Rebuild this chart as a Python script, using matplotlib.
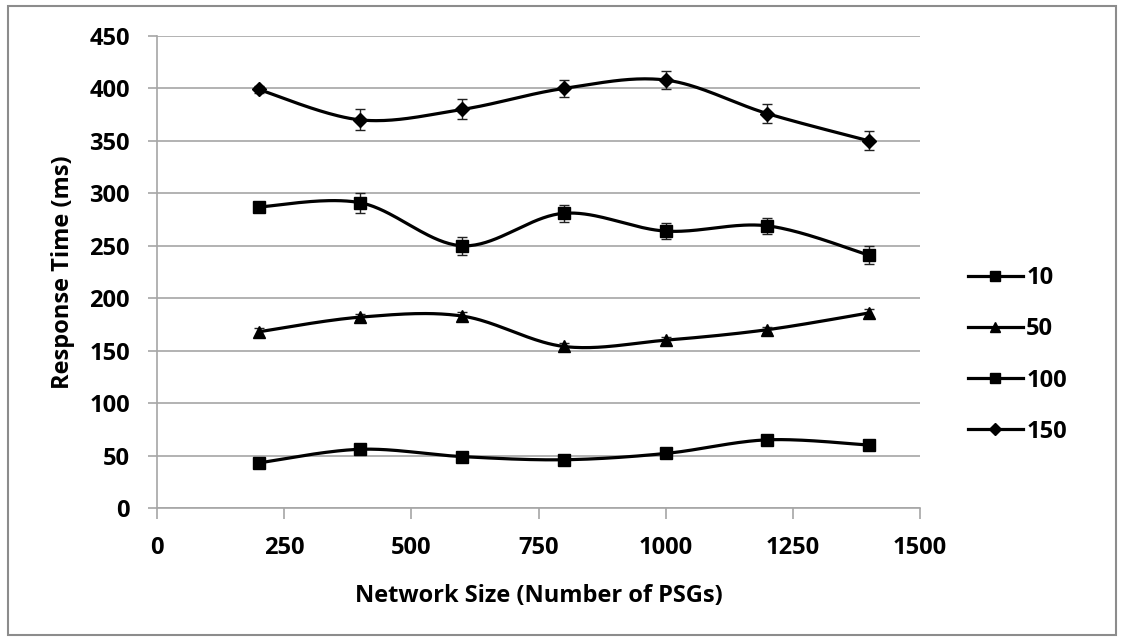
import numpy as np
import matplotlib
matplotlib.use("Agg")
import matplotlib.pyplot as plt
from matplotlib.patches import Rectangle
from matplotlib.lines import Line2D

# Network size (number of PSGs)
network_size = [200, 400, 600, 800, 1000, 1200, 1400]

# Mean response time (ms) per load level, with error-bar half widths
labels = ["10", "50", "100", "150"]
rt_10 = [43, 56, 49, 46, 52, 65, 60]
err_10 = [2, 2, 2, 2, 2, 2, 2]
rt_50 = [168, 182, 183, 154, 160, 170, 186]
err_50 = [4, 3, 4, 3, 3, 3, 4]
rt_100 = [287, 291, 250, 281, 264, 269, 241]
err_100 = [2, 9.5, 8.5, 8, 8, 7.8, 8.7]
rt_150 = [399, 370, 380, 400, 408, 376, 350]
err_150 = [3, 10, 9.5, 8.5, 9, 9, 9]

markers = ["s", "^", "s", "D"]
msizes = [8, 8, 8, 7]

y_ticks = [0, 50, 100, 150, 200, 250, 300, 350, 400, 450]
x_ticks = [0, 250, 500, 750, 1000, 1250, 1500]

FONT = "Open Sans"
FSIZE = 17
GRID = "#a6a6a6"


def smooth(x, y, n=40):
    """Bezier smoothing through the points (Catmull-Rom style control points)."""
    x = np.asarray(x, float)
    y = np.asarray(y, float)
    px, py = [], []
    m = len(x)
    for i in range(m - 1):
        x0, y0 = (x[i - 1], y[i - 1]) if i > 0 else (x[i], y[i])
        x3, y3 = (x[i + 2], y[i + 2]) if i + 2 < m else (x[i + 1], y[i + 1])
        x1, y1 = x[i], y[i]
        x2, y2 = x[i + 1], y[i + 1]
        c1x = x1 + (x2 - x0) / 6
        c1y = y1 + (y2 - y0) / 6
        c2x = x2 - (x3 - x1) / 6
        c2y = y2 - (y3 - y1) / 6
        t = np.linspace(0, 1, n)
        bx = (1 - t) ** 3 * x1 + 3 * (1 - t) ** 2 * t * c1x + 3 * (1 - t) * t ** 2 * c2x + t ** 3 * x2
        by = (1 - t) ** 3 * y1 + 3 * (1 - t) ** 2 * t * c1y + 3 * (1 - t) * t ** 2 * c2y + t ** 3 * y2
        px.extend(bx)
        py.extend(by)
    return np.array(px), np.array(py)


fig = plt.figure(figsize=(11.21, 6.41), dpi=100)
fig.patches.append(Rectangle((8 / 1121, 6 / 641), 1108 / 1121, 629 / 641,
                             transform=fig.transFigure, fill=False,
                             edgecolor="#8c8c8c", linewidth=1.5))

ax = fig.add_axes([157 / 1121, 1 - 508 / 641, (920 - 157) / 1121, (508 - 36) / 641])

series = [(rt_10, err_10), (rt_50, err_50), (rt_100, err_100), (rt_150, err_150)]
for (vals, errs), mk, ms in zip(series, markers, msizes):
    sx, sy = smooth(network_size, vals)
    ax.plot(sx, sy, color="black", linewidth=2.3, zorder=3, solid_capstyle="round")
    ax.errorbar(network_size, vals, yerr=errs, fmt="none", ecolor="#222222",
                elinewidth=1, capsize=3.8, capthick=1, zorder=4)
    ax.plot(network_size, vals, linestyle="none", marker=mk, markersize=ms,
            color="black", zorder=5)

ax.set_xlim(0, 1500)
ax.set_ylim(0, 450)
ax.set_xticks(x_ticks)
ax.set_yticks(y_ticks)
ax.yaxis.grid(True, color=GRID, linewidth=1.2)
ax.set_axisbelow(True)
for side in ["top", "right"]:
    ax.spines[side].set_visible(False)
for side in ["left", "bottom"]:
    ax.spines[side].set_color(GRID)
    ax.spines[side].set_linewidth(1.2)
ax.tick_params(axis="both", direction="out", width=1.2, color=GRID,
               labelsize=FSIZE)
ax.tick_params(axis="y", length=6.5, pad=13)
ax.tick_params(axis="x", length=8, pad=12.5)
for lab in ax.get_xticklabels() + ax.get_yticklabels():
    lab.set_fontfamily(FONT)
    lab.set_fontweight("bold")

ax.set_xlabel("Network Size (Number of PSGs)", fontsize=FSIZE, fontfamily=FONT,
              fontweight="bold", labelpad=17)
ax.set_ylabel("Response Time (ms)", fontsize=FSIZE, fontfamily=FONT,
              fontweight="bold", labelpad=10)

handles = [Line2D([0], [0], color="black", linewidth=2.3, marker=mk, markersize=ms - 1)
           for mk, ms in zip(markers, msizes)]
leg = fig.legend(handles, labels, loc="center left",
                 bbox_to_anchor=(947 / 1121, 1 - 355 / 641), frameon=False,
                 prop={"family": FONT, "weight": "bold", "size": FSIZE},
                 handlelength=2.3, handletextpad=0.15, labelspacing=1.15)

fig.savefig("out.png", dpi=100)
